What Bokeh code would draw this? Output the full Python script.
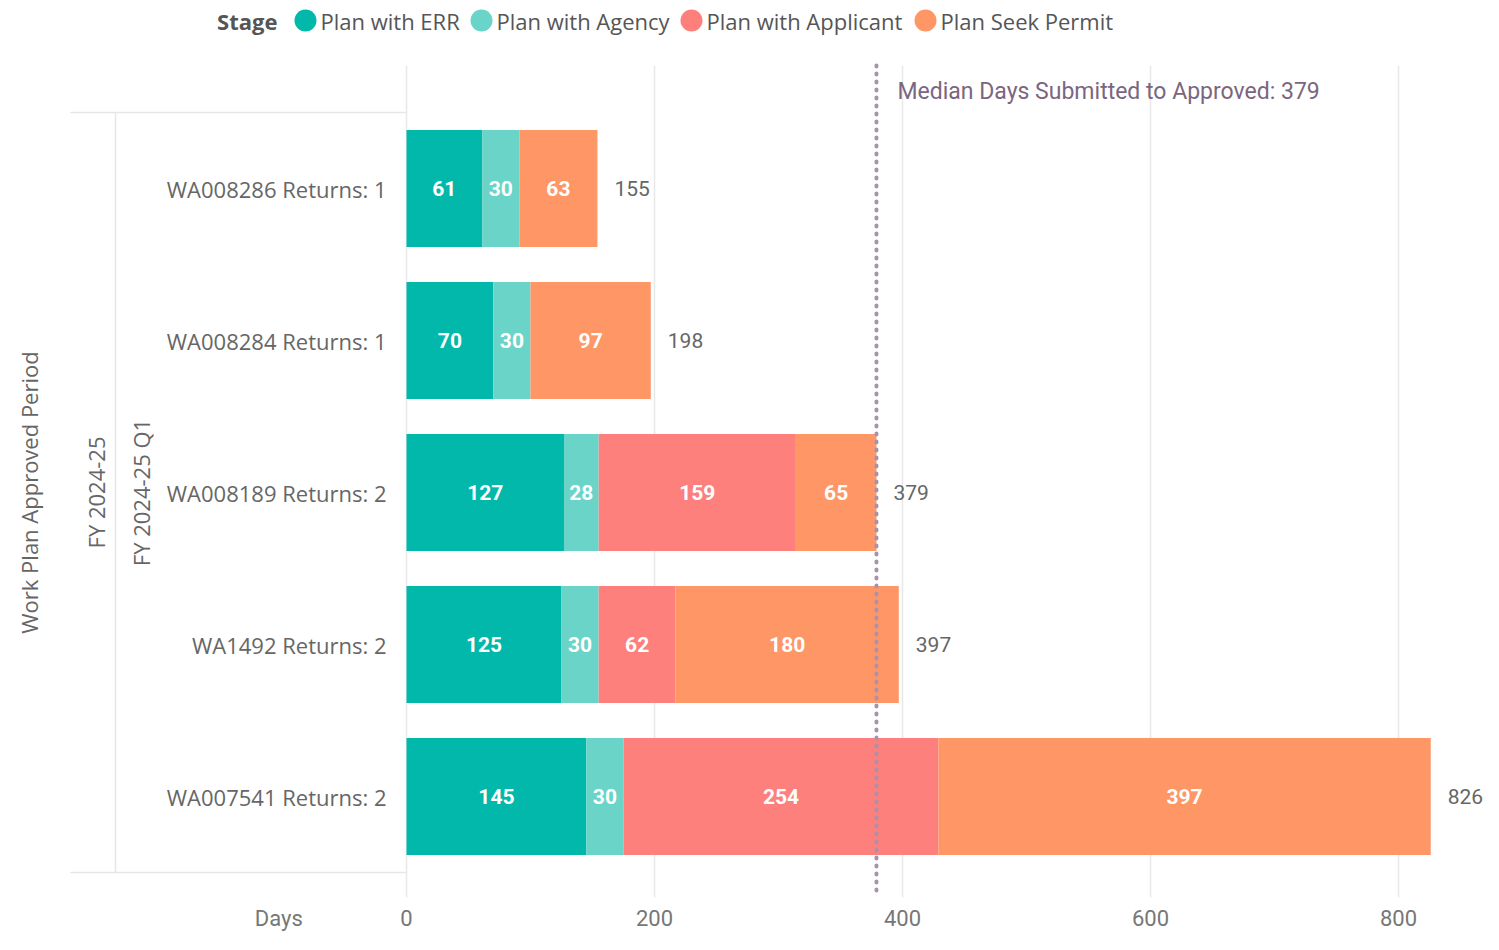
import math
from bokeh.plotting import figure
from bokeh.models import Range1d, FixedTicker, Label, ColumnDataSource
from bokeh.core.properties import value
from bokeh.embed import file_html
from bokeh.resources import INLINE

# ---------------- data ----------------
categories = ["WA008286 Returns: 1", "WA008284 Returns: 1", "WA008189 Returns: 2",
              "WA1492 Returns: 2", "WA007541 Returns: 2"]
period_year = "FY 2024-25"
period_quarter = "FY 2024-25 Q1"
stages = ["Plan with ERR", "Plan with Agency", "Plan with Applicant", "Plan Seek Permit"]
plan_with_err = [61, 70, 127, 125, 145]
plan_with_agency = [30, 30, 28, 30, 30]
plan_with_applicant = [0, 0, 159, 62, 254]
plan_seek_permit = [63, 97, 65, 180, 397]
totals = [155, 198, 379, 397, 826]
median_days = 379
x_ticks = [0, 200, 400, 600, 800]
x_title = "Days"
stage_colors = ["#01B8AA", "#6AD4C8", "#FD807D", "#FE9666"]

# ---------------- layout constants ----------------
W, H = 1483, 934
FRAME_H = 897
ZERO_PX = 406.0        # screen x of day 0
PX_PER_DAY = 1.24
CAT_TOP_PX = 112.0     # screen y of top of first category band
CAT_PX = 152.0         # band height in px


def px2x(px):
    return (px - ZERO_PX) / PX_PER_DAY


def px2y(py):
    return -0.5 + (py - CAT_TOP_PX) / CAT_PX


p = figure(width=W, height=H, output_backend="svg", toolbar_location=None,
           x_range=Range1d(px2x(0), px2x(W)),
           y_range=Range1d(px2y(FRAME_H), px2y(0)),
           y_axis_location=None,
           min_border_left=0, min_border_right=0, min_border_top=0,
           min_border_bottom=H - FRAME_H)
p.outline_line_color = None
p.xgrid.visible = False
p.ygrid.visible = False
p.background_fill_color = "white"

# x axis (the axis title sits at the left of the tick row, as in Power BI)
title_tick = round(px2x(278))
p.xaxis.ticker = FixedTicker(ticks=[title_tick] + x_ticks)
p.xaxis.major_label_overrides = {title_tick: x_title}
p.xaxis.axis_line_color = None
p.xaxis.major_tick_line_color = None
p.xaxis.minor_tick_line_color = None
p.xaxis.major_label_standoff = 2
p.xaxis.major_label_text_font = "Roboto"
p.xaxis.major_label_text_font_size = "22px"
p.xaxis.major_label_text_color = "#777777"

n = len(categories)
ys = list(range(n))
grid_top = px2y(65)
grid_bot = px2y(FRAME_H)

# gridlines
p.segment(x0=x_ticks, x1=x_ticks, y0=[grid_top] * len(x_ticks), y1=[grid_bot] * len(x_ticks),
          line_color="#E8E8E8", line_width=1.5)

# stacked bars
series = [plan_with_err, plan_with_agency, plan_with_applicant, plan_seek_permit]
left = [0] * n
lbl_x, lbl_y, lbl_t = [], [], []
for vals, col, name in zip(series, stage_colors, stages):
    right = [l + v for l, v in zip(left, vals)]
    src = ColumnDataSource(dict(y=ys, left=left, right=right))
    p.hbar(y="y", left="left", right="right", height=0.77, source=src,
           fill_color=col, line_color=None)
    for i, v in enumerate(vals):
        if v > 0:
            lbl_x.append(left[i] + v / 2)
            lbl_y.append(ys[i])
            lbl_t.append(str(v))
    left = right

p.text(x=lbl_x, y=lbl_y, text=lbl_t, text_color="white", text_font=value("Roboto"),
       text_font_size="21px", text_font_style="bold", text_align="center",
       text_baseline="middle")

# totals
p.text(x=left, y=ys, text=[str(t) for t in totals], x_offset=17,
       text_color="#666666", text_font=value("Roboto"), text_font_size="21px",
       text_align="left", text_baseline="middle")

# median line
p.segment(x0=[median_days], x1=[median_days], y0=[grid_top], y1=[grid_bot],
          line_color="#A892AC", line_width=4, line_dash="1 7", line_cap="round")
p.add_layout(Label(x=median_days, y=px2y(91), x_offset=21,
                   text="Median Days Submitted to Approved: %d" % median_days,
                   text_font="Roboto", text_font_size="23px", text_color="#7A6680",
                   text_baseline="middle", text_align="left"))

# category labels
p.text(x=[0] * n, y=ys, text=categories, x_offset=-20, text_color="#666666",
       text_font=value("Open Sans"), text_font_size="22px", text_align="right",
       text_baseline="middle")

# hierarchy separators
p.segment(x0=[px2x(70), px2x(70)], x1=[0, 0], y0=[-0.5, n - 0.5], y1=[-0.5, n - 0.5],
          line_color="#E6E6E6", line_width=1.5)
p.segment(x0=[px2x(115)], x1=[px2x(115)], y0=[-0.5], y1=[n - 0.5],
          line_color="#E6E6E6", line_width=1.5)

mid = (n - 1) / 2
for txt, xpx in [(period_quarter, 140), (period_year, 95),
                 ("Work Plan Approved Period", 28)]:
    p.add_layout(Label(x=px2x(xpx), y=mid, text=txt, angle=math.pi / 2,
                       text_font="Open Sans", text_font_size="22px", text_color="#666666",
                       text_align="center", text_baseline="middle"))

# legend (manual, Power BI style)
leg_y = px2y(20)
p.text(x=[px2x(277)], y=[leg_y], text=["Stage"], text_font=value("Open Sans"),
       text_font_size="22px", text_font_style="bold", text_color="#555555",
       text_align="right", text_baseline="middle")
circle_px = [305, 481, 691, 925]
p.scatter(x=[px2x(c) for c in circle_px], y=[leg_y] * 4, size=22, marker="circle",
          fill_color=stage_colors, line_color=None)
p.text(x=[px2x(c + 15) for c in circle_px], y=[leg_y] * 4, text=stages,
       text_font=value("Open Sans"), text_font_size="22px", text_color="#555555",
       text_align="left", text_baseline="middle")

open("out.html", "w").write(file_html(p, INLINE))
